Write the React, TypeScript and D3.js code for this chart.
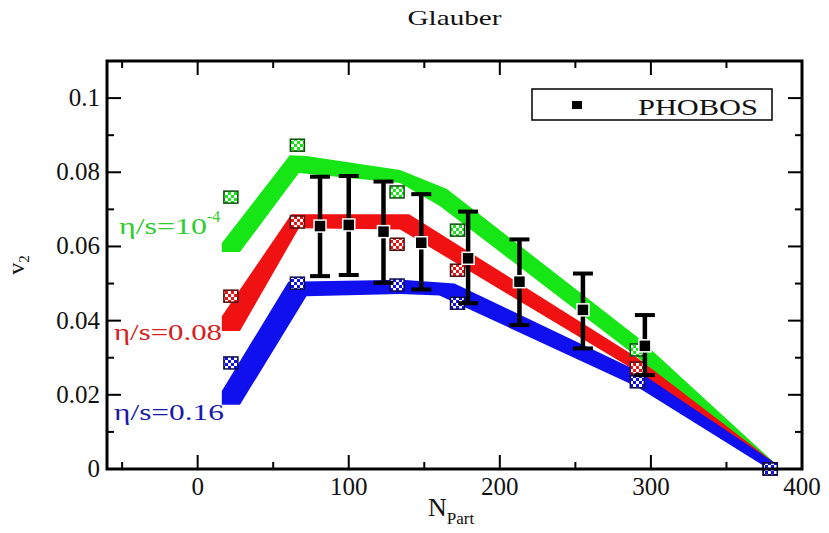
import React from "react";
import * as d3 from "d3";

// ---- Data ----
const xTicksMajor = [0, 100, 200, 300, 400];
const xTicksMinor = [-50, 50, 150, 250, 350];
const yTicksMajor = [0, 0.02, 0.04, 0.06, 0.08, 0.1];
const yTickLabels = ["0", "0.02", "0.04", "0.06", "0.08", "0.1"];
const yTicksMinor = [0.01, 0.03, 0.05, 0.07, 0.09];

// hydro bands (upper / lower boundaries)
const greenUpperN = [16, 61, 72, 134, 165, 291, 382];
const greenUpperV = [0.0609, 0.0846, 0.0844, 0.0806, 0.0755, 0.0356, 0.0016];
const greenLowerN = [16, 28, 67, 134, 160, 291, 378];
const greenLowerV = [0.0585, 0.0585, 0.0798, 0.0771, 0.071, 0.0302, 0.0];

const redUpperN = [16, 62, 140, 291, 382];
const redUpperV = [0.0412, 0.0687, 0.0687, 0.03, 0.0016];
const redLowerN = [16, 28, 67, 134, 291, 378];
const redLowerV = [0.0372, 0.0372, 0.0649, 0.0646, 0.0262, 0.0];

const blueUpperN = [16, 60, 135, 170, 291, 382];
const blueUpperV = [0.021, 0.0505, 0.051, 0.05, 0.0265, 0.0016];
const blueLowerN = [16, 28, 72, 134, 160, 291, 378];
const blueLowerV = [0.0173, 0.0173, 0.0466, 0.0472, 0.0468, 0.0221, 0.0];

// hydro points (checkered markers)
const markN = [22, 66, 132, 172, 291, 379];
const greenMarkV = [0.0733, 0.0873, 0.0747, 0.0644, 0.0321, 0.0];
const redMarkV = [0.0466, 0.0666, 0.0606, 0.0536, 0.0272, 0.0];
const blueMarkV = [0.0286, 0.0501, 0.0496, 0.0447, 0.0235, 0.0];

// PHOBOS data
const phobosN = [81, 100, 123, 148, 179, 213, 255, 296];
const phobosV = [0.0655, 0.0658, 0.064, 0.061, 0.0568, 0.0505, 0.0429, 0.0332];
const phobosHi = [0.0788, 0.079, 0.0775, 0.0741, 0.0694, 0.0619, 0.0527, 0.0415];
const phobosLo = [0.052, 0.0523, 0.0502, 0.0484, 0.0447, 0.0388, 0.0325, 0.0253];

const W = 829;
const H = 533;
const L = 107, R = 802, T = 61, B = 469;
const FONT = "'Liberation Serif', 'Times New Roman', 'DejaVu Serif', serif";

const bands = [
  { id: "g", color: "#16e616", dark: "#0b4d0b", uN: greenUpperN, uV: greenUpperV, lN: greenLowerN, lV: greenLowerV, mV: greenMarkV },
  { id: "r", color: "#f01212", dark: "#4d0b0b", uN: redUpperN, uV: redUpperV, lN: redLowerN, lV: redLowerV, mV: redMarkV },
  { id: "b", color: "#1010ee", dark: "#0b0b4d", uN: blueUpperN, uV: blueUpperV, lN: blueLowerN, lV: blueLowerV, mV: blueMarkV },
];

export default function App() {
  const x = d3.scaleLinear().domain([-60, 400]).range([L, R]);
  const y = d3.scaleLinear().domain([0, 0.11]).range([B, T]);
  const line = d3.line<[number, number]>().x((d) => x(d[0])).y((d) => y(d[1]));

  const bandPath = (b: typeof bands[0]) => {
    const up = b.uN.map((n, i) => [n, b.uV[i]] as [number, number]);
    const lo = b.lN.map((n, i) => [n, b.lV[i]] as [number, number]).reverse();
    return line([...up, ...lo]) + "Z";
  };

  const MAJ = 14, MIN = 7;
  const ts = { fontFamily: FONT };

  return (
    <svg width={W} height={H} style={{ position: "absolute", left: 0, top: 0, background: "#fff", fontFamily: FONT }}>
      <defs>
        {bands.map((b) => (
          <pattern key={b.id} id={"chk" + b.id} patternUnits="userSpaceOnUse" width={6} height={6}>
            <rect width={6} height={6} fill="#fff" />
            <rect width={3} height={3} fill={b.color} />
            <rect x={3} y={3} width={3} height={3} fill={b.color} />
          </pattern>
        ))}
      </defs>
      <rect width={W} height={H} fill="#fff" />

      {/* title */}
      <text style={ts} x={(L + R) / 2} y={25} textAnchor="middle" fontSize={22} textLength={94} lengthAdjust="spacingAndGlyphs" fill="#111">Glauber</text>

      {/* bands */}
      {bands.map((b) => (
        <path key={b.id} d={bandPath(b)} fill={b.color} stroke="none" />
      ))}

      {/* checkered hydro markers */}
      {bands.map((b) =>
        markN.map((n, i) => (
          <rect key={b.id + i} x={x(n) - 7} y={y(b.mV[i]) - 6} width={14} height={12} fill={`url(#chk${b.id})`} stroke={b.dark} strokeWidth={1.5} />
        ))
      )}

      {/* PHOBOS error bars */}
      {phobosN.map((n, i) => (
        <g key={"p" + i}>
          <line x1={x(n)} x2={x(n)} y1={y(phobosHi[i])} y2={y(phobosLo[i])} stroke="#000" strokeWidth={4.5} />
          <line x1={x(n) - 10} x2={x(n) + 10} y1={y(phobosHi[i])} y2={y(phobosHi[i])} stroke="#000" strokeWidth={4} />
          <line x1={x(n) - 10} x2={x(n) + 10} y1={y(phobosLo[i])} y2={y(phobosLo[i])} stroke="#000" strokeWidth={4} />
          <rect x={x(n) - 6} y={y(phobosV[i]) - 6} width={12} height={12} fill="#000" stroke="#fff" strokeWidth={1.5} />
        </g>
      ))}

      {/* frame & ticks */}
      <rect x={L} y={T} width={R - L} height={B - T} fill="none" stroke="#000" strokeWidth={3} />
      {xTicksMajor.map((t) => (
        <g key={"xm" + t}>
          <line x1={x(t)} x2={x(t)} y1={B} y2={B - MAJ} stroke="#000" strokeWidth={2} />
          <line x1={x(t)} x2={x(t)} y1={T} y2={T + MAJ} stroke="#000" strokeWidth={2} />
          <text style={ts} x={x(t)} y={495} textAnchor="middle" fontSize={25} fill="#111">{t}</text>
        </g>
      ))}
      {xTicksMinor.map((t) => (
        <g key={"xn" + t}>
          <line x1={x(t)} x2={x(t)} y1={B} y2={B - MIN} stroke="#000" strokeWidth={2} />
          <line x1={x(t)} x2={x(t)} y1={T} y2={T + MIN} stroke="#000" strokeWidth={2} />
        </g>
      ))}
      {yTicksMajor.map((t, i) => (
        <g key={"ym" + t}>
          <line x1={L} x2={L + MAJ} y1={y(t)} y2={y(t)} stroke="#000" strokeWidth={2} />
          <line x1={R} x2={R - MAJ} y1={y(t)} y2={y(t)} stroke="#000" strokeWidth={2} />
          <text style={ts} x={100} y={y(t) + 8} textAnchor="end" fontSize={25} fill="#111">{yTickLabels[i]}</text>
        </g>
      ))}
      {yTicksMinor.map((t) => (
        <g key={"yn" + t}>
          <line x1={L} x2={L + MIN} y1={y(t)} y2={y(t)} stroke="#000" strokeWidth={2} />
          <line x1={R} x2={R - MIN} y1={y(t)} y2={y(t)} stroke="#000" strokeWidth={2} />
        </g>
      ))}

      {/* axis labels */}
      <text style={ts} x={428} y={516} fontSize={26} fill="#111">N<tspan fontSize={17} dy={8}>Part</tspan></text>
      <text style={ts} transform="translate(24,265) rotate(-90)" textAnchor="middle" fontSize={24} fill="#111">v<tspan fontSize={15} dy={5}>2</tspan></text>

      {/* band labels */}
      <text style={ts} x={119} y={234} fontSize={24} fill="#2ecc2e">
        <tspan textLength={88} lengthAdjust="spacingAndGlyphs">η/s=10</tspan>
        <tspan fontSize={16} dy={-12}>-4</tspan>
      </text>
      <text style={ts} x={114} y={340} fontSize={24} fill="#d42020" textLength={108} lengthAdjust="spacingAndGlyphs">η/s=0.08</text>
      <text style={ts} x={114} y={420} fontSize={24} fill="#1a1aa8" textLength={110} lengthAdjust="spacingAndGlyphs">η/s=0.16</text>

      {/* legend */}
      <rect x={532} y={89} width={240} height={31} fill="#fff" stroke="#000" strokeWidth={1.5} />
      <rect x={572} y={101} width={10} height={8} fill="#000" />
      <text style={ts} x={638} y={115} fontSize={24} textLength={120} lengthAdjust="spacingAndGlyphs" fill="#111">PHOBOS</text>
    </svg>
  );
}
